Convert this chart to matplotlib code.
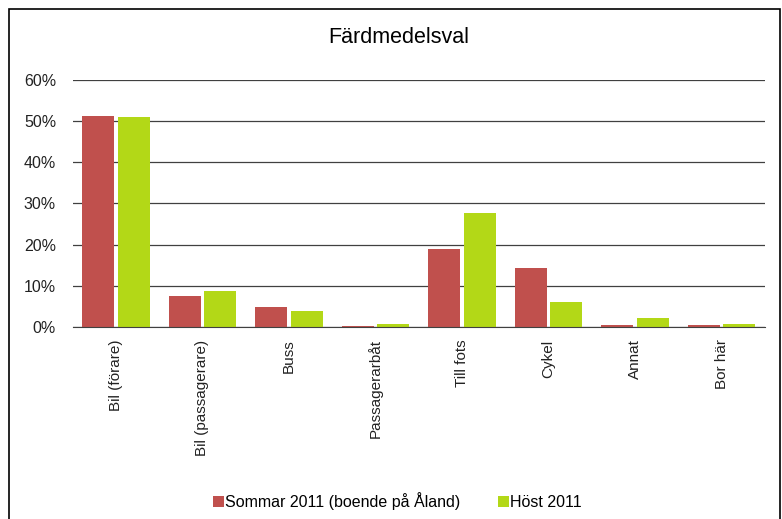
import matplotlib.pyplot as plt
import numpy as np
from matplotlib.patches import Rectangle
from matplotlib.ticker import PercentFormatter

plt.rcParams['font.family'] = ['Liberation Sans', 'DejaVu Sans']

categories = ['Bil (förare)', 'Bil (passagerare)', 'Buss', 'Passagerarbåt',
              'Till fots', 'Cykel', 'Annat', 'Bor här']
sommar = [51.2, 7.6, 4.9, 0.3, 18.9, 14.4, 0.5, 0.5]
host = [50.9, 8.8, 3.9, 0.8, 27.8, 6.1, 2.1, 0.8]
series_names = ['Sommar 2011 (boende på Åland)', 'Höst 2011']
colors = ['#C0504D', '#B3D817']

fig = plt.figure(figsize=(7.82, 5.19), dpi=100)
ax = fig.add_axes([0.093, 0.370, 0.885, 0.476])

x = np.arange(len(categories))
w = 0.37
ax.bar(x - w / 2 - 0.02, sommar, w, color=colors[0], label=series_names[0])
ax.bar(x + w / 2 + 0.02, host, w, color=colors[1], label=series_names[1])

ax.set_ylim(0, 60)
ax.set_xlim(-0.5, len(categories) - 0.5)
ax.set_yticks(np.arange(0, 61, 10))
ax.yaxis.set_major_formatter(PercentFormatter(decimals=0))
ax.yaxis.grid(True, color='#404040', linewidth=0.9)
ax.set_axisbelow(True)
for s in ['top', 'right', 'left']:
    ax.spines[s].set_visible(False)
ax.spines['bottom'].set_color('#404040')
ax.tick_params(axis='y', length=0, labelsize=11.5, pad=12, labelcolor='#222222')
ax.tick_params(axis='x', length=0, labelsize=11, pad=9, labelcolor='#222222')
ax.set_xticks(x)
ax.set_xticklabels(categories, rotation=90)

fig.text(0.51, 0.928, 'Färdmedelsval', ha='center', va='center', fontsize=15.5)

handles, labels = ax.get_legend_handles_labels()
fig.legend(handles, labels, loc='center', bbox_to_anchor=(0.508, 0.035), ncol=2,
           frameon=False, fontsize=11.5, handlelength=0.7, handleheight=0.7,
           handletextpad=0.05, columnspacing=2.4)

# outer chart frame
fig.patches.append(Rectangle((0.011, -0.05), 0.986, 1.033, transform=fig.transFigure,
                             fill=False, edgecolor='black', linewidth=1.2))

fig.savefig('out.png', dpi=100, facecolor='white')
